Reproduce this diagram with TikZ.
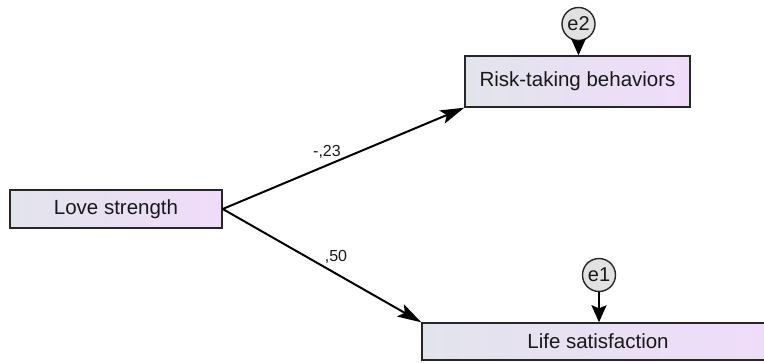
\documentclass[tikz,border=0pt]{standalone}
\usepackage{fontspec}
\setmainfont{Liberation Sans}
\usetikzlibrary{arrows.meta}
\definecolor{boxL}{RGB}{226,228,236}
\definecolor{boxR}{RGB}{240,220,250}
\definecolor{errfill}{RGB}{225,225,225}
\begin{document}
\begin{tikzpicture}[x=1pt,y=1pt,
  obs/.style={draw=black!85, line width=1.4pt, left color=boxL, right color=boxR, inner sep=0pt, text=black!90, font=\fontsize{20.5}{24}\selectfont},
  err/.style={circle, draw=black!85, line width=1.4pt, fill=errfill, inner sep=0pt, minimum size=33pt, text=black!90, font=\fontsize{20}{24}\selectfont},
  regpath/.style={line width=2pt, -{Stealth[length=24pt,width=14pt,inset=5pt]}},
  errpath/.style={line width=2pt, -{Stealth[length=17pt,width=15pt,inset=3pt]}},
  coef/.style={inner sep=0pt, text=black!90, font=\fontsize{16}{19}\selectfont}]
\useasboundingbox (0,0) rectangle (764,362);
\clip (0,0) rectangle (764,362);
\node[obs, minimum width=212pt, minimum height=38pt] (love) at (116,153) {Love strength};
\node[obs, minimum width=225pt, minimum height=51pt] (risk) at (577.5,280.5) {Risk-taking behaviors};
\node[obs, minimum width=352pt, minimum height=37pt] (life) at (598,20.5) {Life satisfaction};
\node[err] (e2) at (578.5,338) {e2};
\node[err] (e1) at (599,87) {e1};
\draw[regpath] (love.east) -- (risk.south west);
\draw[regpath] (love.east) -- (life.north west);
\draw[errpath] (e2.south) -- (e2.south |- risk.north);
\draw[errpath] (e1.south) -- (e1.south |- life.north);
\node[coef] (c1) at (327,210) {-,23};
\node[coef] (c2) at (336,105) {,50};
\end{tikzpicture}
\end{document}
